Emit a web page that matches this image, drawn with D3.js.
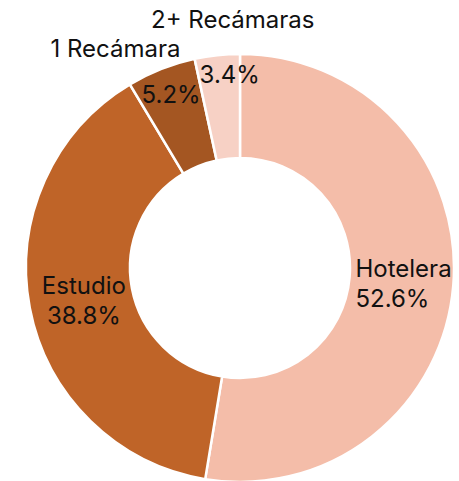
<!DOCTYPE html>
<html>
<head>
<meta charset="utf-8">
<script src="https://cdn.jsdelivr.net/npm/d3@7"></script>
<style>
  body { margin: 0; background: #fff; }
  svg text { font-family: Inter, "Open Sans", sans-serif; font-size: 24px; fill: #111; }
</style>
</head>
<body>
<div id="chart"></div>
<script>
// data
var categories = ["Hotelera", "Estudio", "1 Recámara", "2+ Recámaras"];
var values = [52.6, 38.8, 5.2, 3.4];
var colors = ["#F4BDA9", "#BF6428", "#A45622", "#F7D1C5"];

var w = 459, h = 481;
var cx = 240, cy = 268,
    outerR = 214, innerR = 110;

var svg = d3.select("#chart").append("svg")
    .attr("width", w)
    .attr("height", h);

var g = svg.append("g").attr("transform", "translate(" + cx + "," + cy + ")");

var pie = d3.pie().sort(null).value(function(d) { return d; });
var arcs = pie(values);

var arc = d3.arc().innerRadius(innerR).outerRadius(outerR);

g.selectAll("path")
    .data(arcs)
  .enter().append("path")
    .attr("d", arc)
    .attr("fill", function(d, i) { return colors[i]; })
    .attr("stroke", "#fff")
    .attr("stroke-width", 2.5);

// labels: big slices get name + value at centroid,
// small slices get the value inside near the rim and the name outside
var mid = (innerR + outerR) / 2;
var valArc = d3.arc().innerRadius(190).outerRadius(190);
var valNudge = {2: [1, 3], 3: [10, -5]};

arcs.forEach(function(d, i) {
  var pct = d3.format(".1f")(values[i]) + "%";
  if (values[i] > 10) {
    var c = d3.arc().innerRadius(mid).outerRadius(mid).centroid(d);
    var t = g.append("text");
    if (c[0] > 0) {
      t.attr("text-anchor", "start");
      t.append("tspan").attr("x", c[0] - 46).attr("y", c[1] - 4).text(categories[i]);
      t.append("tspan").attr("x", c[0] - 46).attr("y", c[1] + 26).text(pct);
    } else {
      t.attr("text-anchor", "middle");
      t.append("tspan").attr("x", c[0] + 3).attr("y", c[1] - 4).text(categories[i]);
      t.append("tspan").attr("x", c[0] + 3).attr("y", c[1] + 26).text(pct);
    }
  } else {
    var v = valArc.centroid(d);
    g.append("text")
        .attr("text-anchor", "middle")
        .attr("x", v[0] + valNudge[i][0])
        .attr("y", v[1] + 9 + valNudge[i][1])
        .text(pct);
  }
});

// outside names for the thin slices
var nameArc = d3.arc().innerRadius(outerR + 32).outerRadius(outerR + 32);
var n1 = nameArc.centroid(arcs[2]), n2 = nameArc.centroid(arcs[3]);
g.append("text")
    .attr("text-anchor", "middle")
    .attr("x", n1[0] - 34)
    .attr("y", n1[1] + 18)
    .text(categories[2]);
g.append("text")
    .attr("text-anchor", "middle")
    .attr("x", n2[0] + 19)
    .attr("y", n2[1] + 5)
    .text(categories[3]);
</script>
</body>
</html>
